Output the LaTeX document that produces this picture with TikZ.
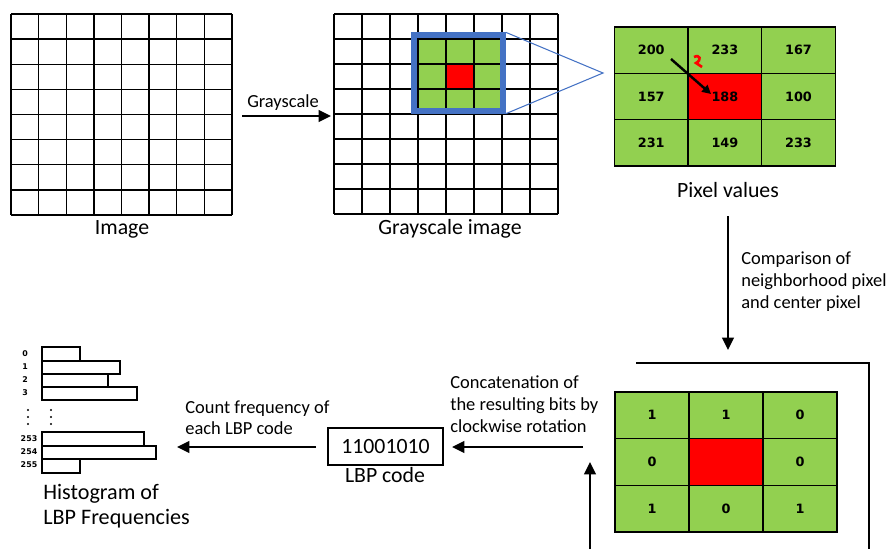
\documentclass[tikz,border=0pt]{standalone}
\usepackage{fontspec}
\setmainfont{Carlito}
\newfontfamily\cellfont{DejaVu Sans}
\usetikzlibrary{arrows.meta}
\definecolor{lbpgreen}{HTML}{92D050}
\definecolor{lbpblue}{HTML}{4472C4}

\begin{document}
\begin{tikzpicture}[x=0.02cm, y=-0.02cm,
    gridline/.style = {line width=0.8pt},
    flow/.style = {line width=1.5pt, -{Triangle[length=7pt,width=6.5pt]}},
    cell/.style = {draw, line width=0.8pt, fill=lbpgreen, inner sep=0,
      minimum width=1.474cm, minimum height=0.926cm,
      font=\cellfont\bfseries\fontsize{7.3}{8}\selectfont},
    bitcell/.style = {cell, minimum width=1.48cm, minimum height=0.933cm},
    caption/.style = {font=\fontsize{12.4}{14}\selectfont, anchor=base, inner sep=0},
    note/.style = {font=\fontsize{10.5}{12.6}\selectfont, align=left, anchor=north west, inner sep=0},
    bar/.style = {line width=0.6pt},
    binlabel/.style = {font=\cellfont\bfseries\fontsize{4.5}{5}\selectfont, inner sep=0}]
  \useasboundingbox (0,0) rectangle (891,549);

  %%% input image %%%
  \foreach \i in {0,...,8} {
    \draw[gridline] ({11+27.625*\i},14) -- ({11+27.625*\i},215);
    \draw[gridline] (11,{14+25.125*\i}) -- (232,{14+25.125*\i});
  }
  \node[caption] (imglabel) at (122,234) {Image};

  % grayscale step
  \coordinate (gray-from) at (242,116);
  \coordinate (gray-to) at (331,116);
  \draw[flow] (gray-from) -- (gray-to);
  \node[caption, font=\fontsize{10.5}{12.6}\selectfont] (graylabel) at (283,107) {Grayscale};

  %%% grayscale image %%%
  \fill[lbpgreen] (418,39) rectangle (502,114);
  \fill[red] (446,64) rectangle (474,89);
  \foreach \i in {0,...,8} {
    \draw[gridline] ({334+28*\i},14) -- ({334+28*\i},214);
    \draw[gridline] (334,{14+25*\i}) -- (558,{14+25*\i});
  }
  \node[caption] (graycap) at (450,234) {Grayscale image};
  % 3x3 window
  \node[draw=lbpblue, line width=3.1pt, inner sep=0, minimum width=1.78cm,
    minimum height=1.52cm] (window) at (458.5,73) {};
  \coordinate (zoom-tip) at (603,73);
  \draw[lbpblue, line width=0.6pt] (window.north east) -- (zoom-tip) -- (window.south east);

  %%% pixel values %%%
  % row 1
  \node[cell] (p11) at (651.2,50.2) {200};
  \node[cell] (p12) at (724.9,50.2) {233};
  \node[cell] (p13) at (798.5,50.2) {167};
  % row 2
  \node[cell] (p21) at (651.2,96.5) {157};
  \node[cell, fill=red] (p22) at (724.9,96.5) {188};
  \node[cell] (p23) at (798.5,96.5) {100};
  % row 3
  \node[cell] (p31) at (651.2,142.8) {231};
  \node[cell] (p32) at (724.9,142.8) {149};
  \node[cell] (p33) at (798.5,142.8) {233};
  % comparison arrow and mark
  \coordinate (cmp-start) at (671,59);
  \coordinate (cmp-end) at (711,94);
  \draw[line width=1.4pt, -{Triangle[length=5pt,width=5pt]}] (cmp-start) -- (cmp-end);
  \draw[red, line width=1.5pt] (694,57) .. controls (700,54) and (702,60) .. (696,63) -- (702,67);
  \node[caption] (pixcap) at (728,197) {Pixel values};

  % comparison step
  \coordinate (cmp-from) at (728,216);
  \coordinate (cmp-to) at (728,350);
  \draw[flow] (cmp-from) -- (cmp-to);
  \node[note] (cmpnote) at (741,251) {Comparison of\\neighborhood pixel\\and center pixel};

  %%% binary pattern %%%
  \draw[line width=0.6pt] (636,363) -- (869,363) -- (869,549);
  % row 1
  \node[bitcell] (b11) at (652,415.3) {1};
  \node[bitcell] (b12) at (726,415.3) {1};
  \node[bitcell] (b13) at (800,415.3) {0};
  % row 2
  \node[bitcell] (b21) at (652,462) {0};
  \node[bitcell, fill=red] (b22) at (726,462) {};
  \node[bitcell] (b23) at (800,462) {0};
  % row 3
  \node[bitcell] (b31) at (652,508.7) {1};
  \node[bitcell] (b32) at (726,508.7) {0};
  \node[bitcell] (b33) at (800,508.7) {1};
  \coordinate (loop-from) at (590,549);
  \coordinate (loop-to) at (590,462);
  \draw[flow] (loop-from) -- (loop-to);

  % concatenation step
  \coordinate (cat-from) at (583,447);
  \coordinate (cat-to) at (452,447);
  \draw[flow] (cat-from) -- (cat-to);
  \node[note, font=\fontsize{10.5}{12.5}\selectfont] (catnote) at (450,375)
    {Concatenation of\\the resulting bits by\\clockwise rotation};

  %%% LBP code %%%
  \node[draw, line width=0.6pt, inner sep=0, minimum width=2.3cm, minimum height=0.74cm,
    font=\fontsize{12.4}{14}\selectfont] (code) at (385.5,446.5) {11001010};
  \node[caption] (codecap) at (385,482) {LBP code};

  % counting step
  \coordinate (cnt-from) at (316,447);
  \coordinate (cnt-to) at (177,447);
  \draw[flow] (cnt-from) -- (cnt-to);
  \node[note, font=\fontsize{10.5}{12}\selectfont] (cntnote) at (185,400)
    {Count frequency of\\each LBP code};

  %%% histogram %%%
  \draw[bar] (42,347) rectangle (80,361);
  \draw[bar] (42,361) rectangle (120,374);
  \draw[bar] (42,374) rectangle (108,387);
  \draw[bar] (42,387) rectangle (137,400);
  \draw[bar] (42,432) rectangle (144,446);
  \draw[bar] (42,446) rectangle (156,459);
  \draw[bar] (42,459) rectangle (80,473);
  % bin indices
  \node[binlabel] (h0) at (25,354) {0};
  \node[binlabel] (h1) at (25,367) {1};
  \node[binlabel] (h2) at (25,380) {2};
  \node[binlabel] (h3) at (25,393) {3};
  \node[binlabel] (h253) at (29,439) {253};
  \node[binlabel] (h254) at (29,452) {254};
  \node[binlabel] (h255) at (29,465) {255};
  % skipped bins
  \fill (28,410) circle (0.6pt) (28,417) circle (0.6pt) (28,424) circle (0.6pt);
  \fill (51,410) circle (0.6pt) (51,417) circle (0.6pt) (51,424) circle (0.6pt);
  \node[note, font=\fontsize{12.6}{14.2}\selectfont] (histcap) at (43,484)
    {Histogram of\\LBP Frequencies};
\end{tikzpicture}
\end{document}
